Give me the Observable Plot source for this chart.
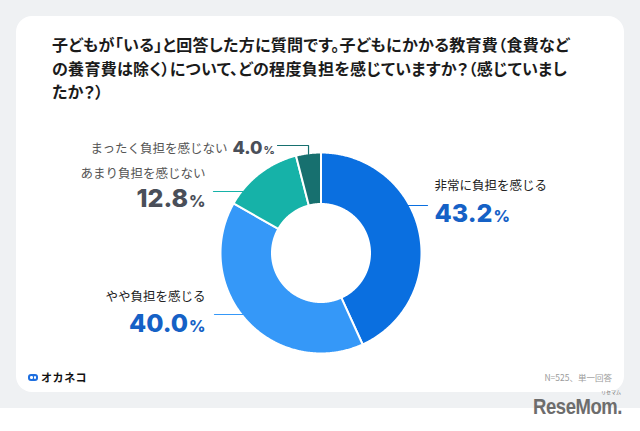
<!DOCTYPE html>
<html><head><meta charset="utf-8">
<script src="https://cdn.jsdelivr.net/npm/d3@7"></script>
<script src="https://cdn.jsdelivr.net/npm/@observablehq/plot@0.6"></script>
<style>
html,body{margin:0;padding:0;width:640px;height:431px;overflow:hidden;background:#fff;font-family:"Noto Sans CJK JP","Noto Sans",sans-serif;}
#bg{position:absolute;left:0;top:0;width:640px;height:408px;background:#EFF1F3;}
#card{position:absolute;left:16px;top:16px;width:608px;height:376px;background:#fff;border-radius:16px;}
#title{position:absolute;left:52px;top:33px;font-size:16px;font-weight:700;line-height:23.5px;color:#1b1b1b;white-space:nowrap;font-feature-settings:"palt";letter-spacing:0.3px;}
#chart{position:absolute;left:0;top:0;}
#logo{position:absolute;left:28px;top:370px;height:14px;display:flex;align-items:center;font-size:11px;font-weight:700;color:#111;letter-spacing:0.6px;}
#logo .ic{width:10px;height:7px;margin-right:3px;position:relative;background:#1E6FE0;border-radius:3px;}
#logo .ic i{position:absolute;top:2px;width:2.5px;height:3px;background:#fff;border-radius:1.2px;}
#note{position:absolute;right:28px;top:370px;font-size:8.5px;color:#9b9b9b;line-height:14px;}
#wm{position:absolute;left:533px;top:396px;font-family:"Liberation Sans","DejaVu Sans",sans-serif;font-weight:700;font-size:22px;line-height:22px;color:#6d6d6d;transform:scaleX(0.84);transform-origin:0 0;white-space:nowrap;letter-spacing:-0.5px;}
#ruby{position:absolute;left:601px;top:389px;font-size:5px;line-height:6px;color:#6d6d6d;font-family:"Noto Sans CJK JP";white-space:nowrap;}
</style></head>
<body>
<div id="bg"></div>
<div id="card"></div>
<div id="title">子どもが「いる」と回答した方に質問です。子どもにかかる教育費（食費など<br>の養育費は除く）について、どの程度負担を感じていますか？（感じていまし<br>たか？）</div>
<div id="chart"></div>
<div id="logo"><div class="ic"><i style="left:2px"></i><i style="left:5.5px"></i></div>オカネコ</div>
<div id="note">N=525、単一回答</div>
<div id="wm">ReseMom.</div>
<div id="ruby">リセマム</div>
<script>
// ---- data ----
const names = ["非常に負担を感じる", "やや負担を感じる", "あまり負担を感じない", "まったく負担を感じない"];
const values = [43.2, 40.0, 12.8, 4.0];
const sliceColors = ["#0A6FE0", "#3598F8", "#16B2A8", "#17706F"];
const nameColors = ["#222222", "#222222", "#555555", "#555555"];
const numberColors = ["#1561C6", "#1561C6", "#4A4F59", "#4A4F59"];

// ---- layout (px offsets from donut centre, y up) ----
const outerR = 99.5, innerR = 50;
const labelLayout = [
  {textX: 113.5, nameY: 67.5, numX: 113.5, numY: 39.5, anchor: "start", numAnchor: "start", lineY: 47.5, lineTo: 106.5, numSize: 25},
  {textX: -115.5, nameY: -43.5, numX: -115.5, numY: -70.5, anchor: "end", numAnchor: "end", lineY: -61.5, lineTo: -106.5, numSize: 25},
  {textX: -115.5, nameY: 79.5, numX: -115.5, numY: 54.5, anchor: "end", numAnchor: "end", lineY: 61.5, lineTo: -107.5, numSize: 25},
  {textX: -93.5, nameY: 104.5, numX: -88.5, numY: 104.5, anchor: "end", numAnchor: "start", lineY: 107.5, lineTo: -43.5, numSize: 18, elbow: true}
];

const pie = d3.pie().sort(null).value(i => values[i])(d3.range(values.length));

// slice polygons
const sw = 1; // half stroke
const slicePts = [];
pie.forEach((p, i) => {
  const n = Math.max(6, Math.ceil((p.endAngle - p.startAngle) / (Math.PI / 360)));
  const pts = [];
  for (let k = 0; k <= n; k++) {
    const a = p.startAngle + (p.endAngle - p.startAngle) * k / n;
    pts.push({name: names[i], x: (outerR + sw) * Math.sin(a), y: (outerR + sw) * Math.cos(a)});
  }
  for (let k = n; k >= 0; k--) {
    const a = p.startAngle + (p.endAngle - p.startAngle) * k / n;
    pts.push({name: names[i], x: (innerR - sw) * Math.sin(a), y: (innerR - sw) * Math.cos(a)});
  }
  pts.push({...pts[0]});
  slicePts.push(...pts);
});

// leader lines
const leaderPts = [];
pie.forEach((p, i) => {
  const L = labelLayout[i];
  if (L.elbow) {
    const mid = (p.startAngle + p.endAngle) / 2;
    const mx = outerR * Math.sin(mid);
    const my = Math.sqrt(outerR * outerR - mx * mx);
    leaderPts.push({k: i, x: L.lineTo, y: L.lineY}, {k: i, x: mx, y: L.lineY}, {k: i, x: mx, y: my});
  } else {
    const ex = Math.sign(L.lineTo) * Math.sqrt(outerR * outerR - L.lineY * L.lineY);
    leaderPts.push({k: i, x: ex, y: L.lineY}, {k: i, x: L.lineTo, y: L.lineY});
  }
});

const marks = [
  Plot.line(slicePts, {x: "x", y: "y", z: "name", fill: "name", stroke: "white", strokeWidth: 2, curve: "linear"})
];
names.forEach((nm, i) => {
  const L = labelLayout[i];
  marks.push(Plot.line(leaderPts.filter(d => d.k === i), {x: "x", y: "y", stroke: sliceColors[i], strokeWidth: 1.2}));
  marks.push(Plot.text([nm], {x: () => L.textX, y: () => L.nameY, text: d => d, textAnchor: L.anchor,
    fill: nameColors[i], fontSize: 12.5, fontFamily: "Noto Sans CJK JP"}));
  marks.push(Plot.text([values[i]], {x: () => L.numX, y: () => L.numY, text: d => d.toFixed(1) + "%", textAnchor: L.numAnchor,
    fill: numberColors[i], fontSize: L.numSize, fontWeight: 800, fontFamily: "Inter"}));
});

const chart = Plot.plot({
  width: 640, height: 431,
  margin: 0,
  x: {domain: [-320.5, 319.5], axis: null},
  y: {domain: [-178.5, 252.5], axis: null},
  color: {domain: names, range: sliceColors},
  style: {background: "transparent", overflow: "visible"},
  marks
});

// smaller % sign
d3.select(chart).selectAll("text").each(function () {
  const t = this.textContent;
  const m = /^(\d+\.\d)%$/.exec(t);
  if (m) {
    const fs = parseFloat(this.parentNode.getAttribute("font-size") || this.getAttribute("font-size") || 25);
    this.textContent = m[1];
    d3.select(this).append("tspan").attr("font-size", Math.round(fs * 0.62)).attr("dx", 1).text("%");
  }
});
document.getElementById("chart").appendChild(chart);
</script>
</body></html>
